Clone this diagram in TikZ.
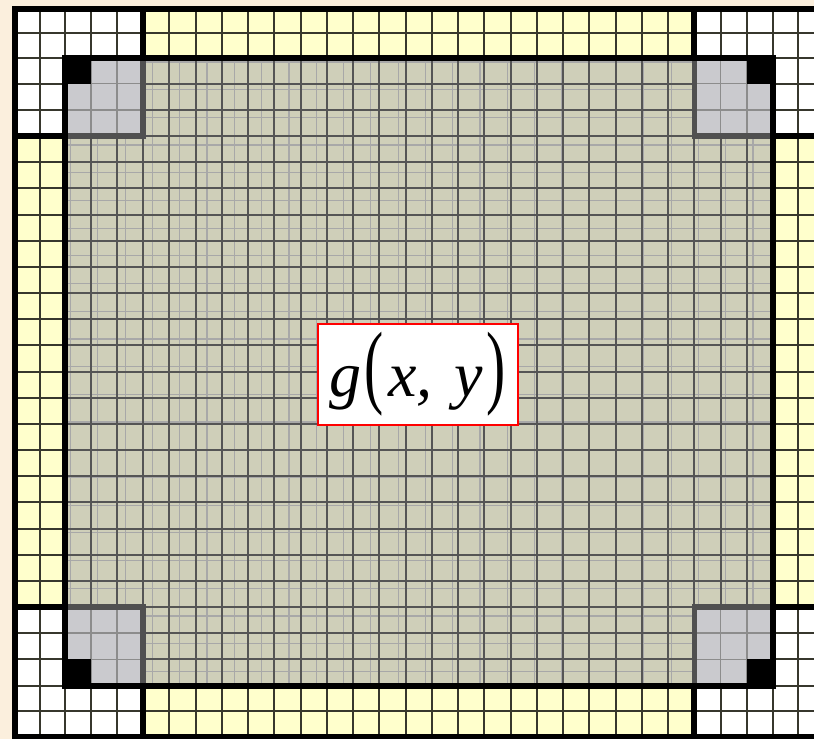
\documentclass[tikz,border=0pt]{standalone}
\usepackage{fontspec}
\setmainfont{Liberation Serif}
\usepackage{graphicx}
\definecolor{bgcream}{RGB}{251,239,221}
\definecolor{bandyellow}{RGB}{255,255,204}
\definecolor{innerolive}{RGB}{207,207,185}
\definecolor{cornergray}{RGB}{202,202,206}
\definecolor{gridolive}{RGB}{55,55,45}
\definecolor{darkgrid}{RGB}{85,85,85}
\definecolor{lightgrid}{RGB}{168,168,168}
\definecolor{blockedge}{RGB}{80,80,80}
\definecolor{blockgrid}{RGB}{140,140,140}
\tikzset{
  thickborder/.style={draw=black,line width=6pt},
  outergrid/.style={draw=gridolive,line width=2pt},
  innerdark/.style={draw=darkgrid,line width=2pt},
  innerlight/.style={draw=lightgrid,line width=1.2pt},
  blocklines/.style={draw=blockgrid,line width=1.6pt},
  grayedge/.style={draw=blockedge,line width=5.5pt},
  labelbox/.style={draw=red,line width=2pt,fill=white,minimum width=200pt,minimum height=101pt,inner sep=0pt}
}
\begin{document}
\begin{tikzpicture}[x=1pt,y=-1pt]
\useasboundingbox (0,0) rectangle (814,739);
\fill[bgcream] (0,0) rectangle (814,739);
\begin{scope}
\clip (0,0) rectangle (814,739);
% outer padded area
\fill[bandyellow] (14.5,8.5) rectangle (823,737);
% white corner blocks
\fill[white] (14.5,8.5) rectangle (143.22,136);
\fill[white] (694.28,8.5) rectangle (823,136);
\fill[white] (14.5,607) rectangle (143.22,737);
\fill[white] (694.28,607) rectangle (823,737);
% outer grid
\foreach \xx in {39.5,798} { \draw[outergrid] (\xx,8.5) -- (\xx,737); }
\foreach \yy in {33,711.25} { \draw[outergrid] (14.5,\yy) -- (823,\yy); }
\foreach \k in {0,...,27} {
  \pgfmathsetmacro\gx{64.5+\k*26.241}
  \draw[outergrid] (\gx,8.5) -- (\gx,737);
}
\foreach \k in {0,...,24} {
  \pgfmathsetmacro\gy{57.5+\k*26.167}
  \draw[outergrid] (14.5,\gy) -- (823,\gy);
}
% thick borders of outer frame and white corners
\draw[thickborder] (14.5,8.5) rectangle (823,737);
\draw[thickborder] (14.5,8.5) rectangle (143.22,136);
\draw[thickborder] (694.28,8.5) rectangle (823,136);
\draw[thickborder] (14.5,607) rectangle (143.22,737);
\draw[thickborder] (694.28,607) rectangle (823,737);
% inner image area
\fill[innerolive] (64.5,57.5) rectangle (773,685.5);
\foreach \k in {0,...,25} {
  \pgfmathsetmacro\lx{70.5+\k*27.3}
  \draw[innerlight] (\lx,57.5) -- (\lx,685.5);
}
\foreach \k in {0,...,22} {
  \pgfmathsetmacro\ly{61.9+\k*27.7}
  \draw[innerlight] (64.5,\ly) -- (773,\ly);
}
\foreach \k in {1,...,26} {
  \pgfmathsetmacro\gx{64.5+\k*26.241}
  \draw[innerdark] (\gx,57.5) -- (\gx,685.5);
}
\foreach \k in {1,...,23} {
  \pgfmathsetmacro\gy{57.5+\k*26.167}
  \draw[innerdark] (64.5,\gy) -- (773,\gy);
}
% gray corner blocks
\fill[cornergray] (64.5,57.5) rectangle (143.22,136);
\fill[cornergray] (694.28,57.5) rectangle (773,136);
\fill[cornergray] (64.5,607) rectangle (143.22,685.5);
\fill[cornergray] (694.28,607) rectangle (773,685.5);
\foreach \xx in {90.74,116.98,720.52,746.76} {
  \draw[blocklines] (\xx,57.5) -- (\xx,136);
  \draw[blocklines] (\xx,607) -- (\xx,685.5);
}
\foreach \yy in {83.67,109.83,633.17,659.33} {
  \draw[blocklines] (64.5,\yy) -- (143.22,\yy);
  \draw[blocklines] (694.28,\yy) -- (773,\yy);
}
% black corner cells
\fill[black] (64.5,57.5) rectangle (90.74,83.67);
\fill[black] (746.76,57.5) rectangle (773,83.67);
\fill[black] (64.5,659.33) rectangle (90.74,685.5);
\fill[black] (746.76,659.33) rectangle (773,685.5);
% gray block inner edges
\draw[grayedge] (143.22,57.5) -- (143.22,136) -- (64.5,136);
\draw[grayedge] (694.28,57.5) -- (694.28,136) -- (773,136);
\draw[grayedge] (64.5,607) -- (143.22,607) -- (143.22,685.5);
\draw[grayedge] (773,607) -- (694.28,607) -- (694.28,685.5);
% inner thick border
\draw[thickborder] (64.5,57.5) rectangle (773,685.5);
\end{scope}
% label
\node[labelbox] (lbl) at (418,374.5) {\fontsize{64}{64}\selectfont\itshape g\kern3pt\scalebox{0.9}[1.45]{\upshape(}\kern4pt x,\kern22pt y\kern4pt\scalebox{0.9}[1.45]{\upshape)}};
\end{tikzpicture}
\end{document}
